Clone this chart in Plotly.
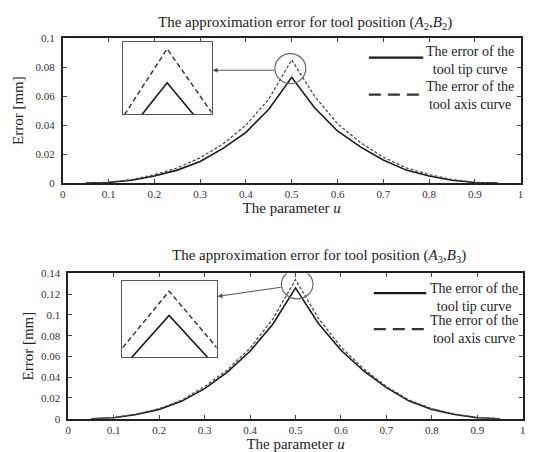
import plotly.graph_objects as go

W, H = 534, 452
FONT = "Liberation Serif"


def px(x):
    return x / W


def py(y):
    return 1 - y / H


# ---------------- data ----------------
u = [0.05, 0.10, 0.15, 0.20, 0.25, 0.30, 0.35, 0.40, 0.45, 0.50,
     0.55, 0.60, 0.65, 0.70, 0.75, 0.80, 0.85, 0.90, 0.95]

# (A2, B2)
top_tip = [0, 0.0005, 0.002, 0.005, 0.009, 0.015, 0.024, 0.035, 0.051, 0.073,
           0.052, 0.036, 0.025, 0.016, 0.009, 0.005, 0.002, 0.0005, 0]
top_axis = [0, 0.0006, 0.0025, 0.0058, 0.0105, 0.0175, 0.027, 0.040, 0.058, 0.085,
            0.060, 0.041, 0.028, 0.018, 0.0105, 0.006, 0.0025, 0.0006, 0]

# (A3, B3)
bot_tip = [0, 0.001, 0.004, 0.009, 0.017, 0.029, 0.045, 0.065, 0.091, 0.126,
           0.092, 0.066, 0.046, 0.030, 0.017, 0.009, 0.004, 0.001, 0]
bot_axis = [0, 0.0011, 0.0045, 0.0097, 0.018, 0.031, 0.047, 0.068, 0.096, 0.134,
            0.097, 0.069, 0.048, 0.031, 0.018, 0.0097, 0.0045, 0.0011, 0]

x_ticks = [0, 0.1, 0.2, 0.3, 0.4, 0.5, 0.6, 0.7, 0.8, 0.9, 1]
x_labels = ["0", "0.1", "0.2", "0.3", "0.4", "0.5", "0.6", "0.7", "0.8", "0.9", "1"]
top_y_ticks = [0, 0.02, 0.04, 0.06, 0.08, 0.1]
top_y_labels = ["0", "0.02", "0.04", "0.06", "0.08", "0.1"]
bot_y_ticks = [0, 0.02, 0.04, 0.06, 0.08, 0.1, 0.12, 0.14]
bot_y_labels = ["0", "0.02", "0.04", "0.06", "0.08", "0.1", "0.12", "0.14"]

name_tip = "The error of the<br>tool tip curve"
name_axis = "The error of the<br>tool axis curve"
title_top = "The approximation error for tool position (<i>A</i><sub>2</sub>,<i>B</i><sub>2</sub>)"
title_bot = "The approximation error for tool position (<i>A</i><sub>3</sub>,<i>B</i><sub>3</sub>)"

SOLID = dict(color="#1a1a1a", width=1.6)
DASHED = dict(color="#4a4a4a", width=1.3, dash="3px,2px")
SOLID_IN = dict(color="#1a1a1a", width=1.6)
DASHED_IN = dict(color="#3a3a3a", width=1.5, dash="5px,3px")

fig = go.Figure()

# main curves
fig.add_trace(go.Scatter(x=u, y=top_tip, mode="lines", line=SOLID, xaxis="x", yaxis="y",
                         name=name_tip, showlegend=False))
fig.add_trace(go.Scatter(x=u, y=top_axis, mode="lines", line=DASHED, xaxis="x", yaxis="y",
                         name=name_axis, showlegend=False))
fig.add_trace(go.Scatter(x=u, y=bot_tip, mode="lines", line=SOLID, xaxis="x2", yaxis="y2",
                         name=name_tip, showlegend=False))
fig.add_trace(go.Scatter(x=u, y=bot_axis, mode="lines", line=DASHED, xaxis="x2", yaxis="y2",
                         name=name_axis, showlegend=False))
# zoomed insets (same data)
fig.add_trace(go.Scatter(x=u, y=top_tip, mode="lines", line=SOLID_IN, xaxis="x3", yaxis="y3",
                         showlegend=False, hoverinfo="skip"))
fig.add_trace(go.Scatter(x=u, y=top_axis, mode="lines", line=DASHED_IN, xaxis="x3", yaxis="y3",
                         showlegend=False, hoverinfo="skip"))
fig.add_trace(go.Scatter(x=u, y=bot_tip, mode="lines", line=SOLID_IN, xaxis="x4", yaxis="y4",
                         showlegend=False, hoverinfo="skip"))
fig.add_trace(go.Scatter(x=u, y=bot_axis, mode="lines", line=DASHED_IN, xaxis="x4", yaxis="y4",
                         showlegend=False, hoverinfo="skip"))

tickfont = dict(family=FONT, size=11, color="#333")
titlefont = dict(family=FONT, size=15, color="#222")
common = dict(showline=True, linecolor="#222", linewidth=1.8, mirror="ticks",
              ticks="inside", ticklen=4, tickcolor="#444", tickwidth=1,
              showgrid=False, zeroline=False, tickfont=tickfont)
inset = dict(showline=True, linecolor="#555", linewidth=1.2, mirror=True,
             ticks="", showticklabels=False, showgrid=False, zeroline=False, fixedrange=True)

fig.update_layout(
    width=W, height=H,
    margin=dict(l=0, r=0, t=0, b=0),
    paper_bgcolor="white", plot_bgcolor="rgba(0,0,0,0)",
    font=dict(family=FONT, color="#222"),
    xaxis=dict(common, domain=[px(60.5), px(523.5)], range=[0, 1], anchor="y",
               tickvals=x_ticks, ticktext=x_labels,
               title=dict(text="The parameter <i>u</i>", font=titlefont, standoff=3)),
    yaxis=dict(common, domain=[py(182), py(33)], range=[0, 0.1], anchor="x",
               tickvals=top_y_ticks, ticktext=top_y_labels, ticklabelstandoff=4,
               title=dict(text="Error [mm]", font=titlefont, standoff=8)),
    xaxis2=dict(common, domain=[px(66), px(525.7)], range=[0, 1], anchor="y2",
                tickvals=x_ticks, ticktext=x_labels,
                title=dict(text="The parameter <i>u</i>", font=titlefont, standoff=0)),
    yaxis2=dict(common, domain=[py(424), py(274.7)], range=[0, 0.14], anchor="x2",
                tickvals=bot_y_ticks, ticktext=bot_y_labels, ticklabelstandoff=4,
                title=dict(text="Error [mm]", font=titlefont, standoff=4)),
    xaxis3=dict(inset, domain=[px(121), px(211)], range=[0.4551, 0.5449], anchor="y3"),
    yaxis3=dict(inset, domain=[py(111), py(37)], range=[0.0620, 0.0874], anchor="x3"),
    xaxis4=dict(inset, domain=[px(120), px(216)], range=[0.475, 0.525], anchor="y4"),
    yaxis4=dict(inset, domain=[py(361), py(283)], range=[0.1122, 0.1372], anchor="x4"),
)

shapes = [
    # magnifier circles
    dict(type="circle", xref="x", yref="y", xsizemode="pixel", ysizemode="pixel",
         xanchor=0.497, yanchor=0.079, x0=-15.5, x1=15.5, y0=-15, y1=15,
         line=dict(color="#666", width=1.2)),
    dict(type="circle", xref="x2", yref="y2", xsizemode="pixel", ysizemode="pixel",
         xanchor=0.5036, yanchor=0.1295, x0=-15.8, x1=15.8, y0=-14.5, y1=14.5,
         line=dict(color="#666", width=1.2)),
    # legend samples
    dict(type="line", xref="paper", yref="paper", x0=px(370), x1=px(425), y0=py(53), y1=py(53),
         line=dict(color="#1a1a1a", width=2.2)),
    dict(type="line", xref="paper", yref="paper", x0=px(370), x1=px(425), y0=py(91), y1=py(91),
         line=dict(color="#333", width=2.2, dash="12px,7px")),
    dict(type="line", xref="paper", yref="paper", x0=px(375), x1=px(428), y0=py(295), y1=py(295),
         line=dict(color="#1a1a1a", width=2.2)),
    dict(type="line", xref="paper", yref="paper", x0=px(375), x1=px(428), y0=py(332), y1=py(332),
         line=dict(color="#333", width=2.2, dash="12px,7px")),
]
fig.update_layout(shapes=shapes)

legfont = dict(family=FONT, size=14, color="#222")
annotations = [
    dict(text=title_top, x=px(305), y=py(17), xref="paper", yref="paper", showarrow=False,
         font=dict(family=FONT, size=15, color="#222"), xanchor="center", yanchor="middle"),
    dict(text=title_bot, x=px(320), y=py(257), xref="paper", yref="paper", showarrow=False,
         font=dict(family=FONT, size=15, color="#222"), xanchor="center", yanchor="middle"),
    dict(text=name_tip, x=px(472), y=py(56), xref="paper", yref="paper", showarrow=False,
         font=legfont, xanchor="center", yanchor="middle", align="center"),
    dict(text=name_axis, x=px(472), y=py(91.5), xref="paper", yref="paper", showarrow=False,
         font=legfont, xanchor="center", yanchor="middle", align="center"),
    dict(text=name_tip, x=px(476), y=py(299), xref="paper", yref="paper", showarrow=False,
         font=legfont, xanchor="center", yanchor="middle", align="center"),
    dict(text=name_axis, x=px(476), y=py(332), xref="paper", yref="paper", showarrow=False,
         font=legfont, xanchor="center", yanchor="middle", align="center"),
    # arrows from magnifier circles to insets
    dict(text="", x=px(212), y=py(66), xref="paper", yref="paper", showarrow=True,
         ax=63, ay=0, arrowhead=2, arrowsize=1, arrowwidth=1, arrowcolor="#555", standoff=0),
    dict(text="", x=px(217), y=py(298.3), xref="paper", yref="paper", showarrow=True,
         ax=64.7, ay=-9.3, arrowhead=2, arrowsize=1, arrowwidth=1, arrowcolor="#555", standoff=0),
]
fig.update_layout(annotations=annotations)

fig.write_html("out.html")
